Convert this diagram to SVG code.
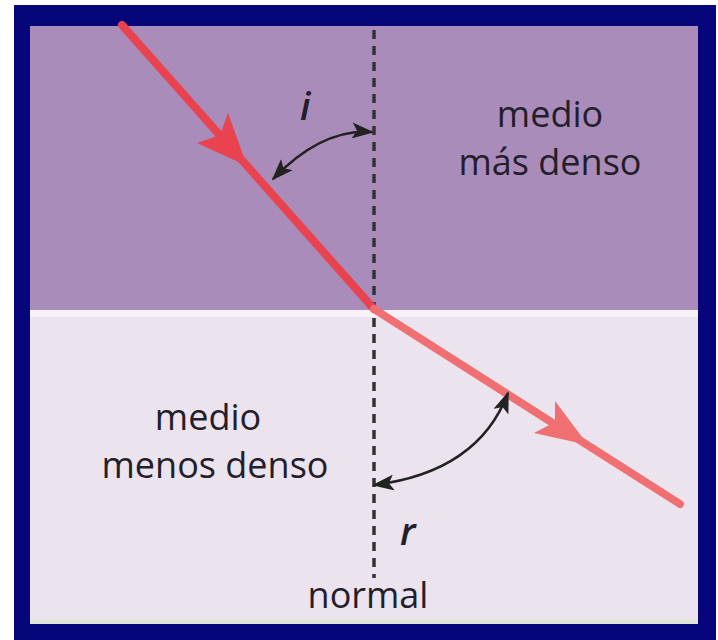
<svg xmlns="http://www.w3.org/2000/svg" width="718" height="640" viewBox="0 0 718 640">
<style>
.lbl{font-family:"Open Sans","Noto Sans","Liberation Sans",sans-serif;font-size:36px;font-weight:500;fill:#231e2a;text-anchor:middle}
.ang{font-family:"Open Sans","Noto Sans","Liberation Sans",sans-serif;font-size:38px;font-weight:600;font-style:italic;fill:#231e2a}
.arc{fill:none;stroke:#222;stroke-width:2.5}
</style>
<defs>
<marker id="ah" viewBox="0 0 22 16" refX="20" refY="8" markerWidth="22" markerHeight="16" markerUnits="userSpaceOnUse" orient="auto-start-reverse">
<path d="M0,0 L22,8 L0,16 L5,8 Z" fill="#222"/>
</marker>
</defs>
<rect x="0" y="0" width="718" height="640" fill="#ffffff"/>
<rect x="14" y="5" width="702" height="640" fill="#06067a"/>
<rect x="30" y="26" width="668" height="284" fill="#a98cba"/>
<rect x="30" y="310" width="668" height="314" fill="#ebe3ee"/>
<rect x="30" y="310" width="668" height="7" fill="#f6f2f8"/>
<rect x="30" y="620" width="668" height="4" fill="#dfe6d8"/>
<g id="normal">
<line x1="374" y1="30" x2="374" y2="578" stroke="#333" stroke-width="3.5" stroke-dasharray="9 7"/>
<text class="lbl" x="368" y="608">normal</text>
</g>
<g id="connectors">
<line x1="122" y1="25" x2="374" y2="309" stroke="#e8434f" stroke-width="8" stroke-linecap="round"/>
<path d="M247,166 L228,113 L220,135 L197,143 Z" fill="#e8434f"/>
<line x1="374" y1="309" x2="680" y2="504" stroke="#ef6f72" stroke-width="8" stroke-linecap="round"/>
<path d="M588,445 L555,401 L555,422 L534,433 Z" fill="#ef6f72"/>
<path class="arc" d="M273,179 Q322,128 372,132" marker-start="url(#ah)" marker-end="url(#ah)"/>
<path class="arc" d="M374,485 Q478,472 508,393" marker-start="url(#ah)" marker-end="url(#ah)"/>
</g>
<g id="label-i"><text class="ang" x="300" y="120">i</text></g>
<g id="label-r"><text class="ang" x="400" y="545">r</text></g>
<g id="medio-denso">
<text class="lbl" x="550" y="127">medio</text>
<text class="lbl" x="550" y="175">más denso</text>
</g>
<g id="medio-menos-denso">
<text class="lbl" x="208" y="430">medio</text>
<text class="lbl" x="215" y="478">menos denso</text>
</g>
</svg>
